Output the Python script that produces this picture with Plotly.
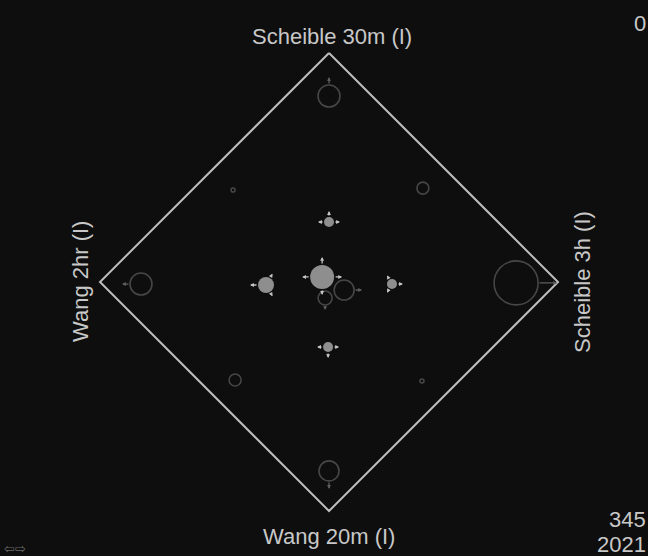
import plotly.graph_objects as go
import math

# ---- data (unit square rotated 45deg: vertices at (0,±1), (±1,0)) ----
axis_labels = ["Scheible 30m (I)", "Scheible 3h (I)", "Wang 20m (I)", "Wang 2hr (I)"]
vertex_x = [0, 1, 0, -1, 0]
vertex_y = [1, 0, -1, 0, 1]

glyph_x = [0.000, 0.000, -0.821, 0.817, -0.030, 0.066, -0.017, -0.275, 0.275, 0.000, -0.004, -0.419, 0.410, -0.410, 0.406]
glyph_y = [0.812, -0.825, -0.009, -0.004, 0.022, -0.035, -0.070, -0.013, -0.009, 0.262, -0.284, 0.402, 0.410, -0.428, -0.432]
glyph_size = [22, 20, 22, 44, 24, 20, 14, 16, 10, 10, 10, 4, 12, 12, 4]
glyph_filled = [0, 0, 0, 0, 1, 0, 0, 1, 1, 1, 1, 0, 0, 0, 0]

# arrows: glyph index, direction (degrees), length
arrow_glyph = [0, 1, 2, 3, 4, 4, 4, 4, 5, 6, 7, 7, 7, 8, 8, 8, 9, 9, 9, 10, 10, 10, 12, 12, 13, 13]
arrow_angle = [90, 270, 180, 0, 90, 270, 180, 0, 0, 270, 180, 60, 300, 0, 120, 240, 90, 180, 0, 270, 180, 0, 135, 315, 135, 315]
arrow_len = [8, 8, 8, 19, 8, 6, 8, 8, 8, 5, 8, 5, 5, 6, 5, 5, 6, 6, 6, 6, 6, 6, 3, 3, 3, 3]

BG = "#0e0e0e"
TXT = "#c8c8c8"
PX = 229.0  # pixels per data unit (for converting glyph radius to data units)

fig = go.Figure()

fig.add_trace(go.Scatter(x=vertex_x, y=vertex_y, mode="lines",
                         line=dict(color="#bdbdbd", width=2), hoverinfo="skip"))

hx = [x for x, f in zip(glyph_x, glyph_filled) if not f]
hy = [y for y, f in zip(glyph_y, glyph_filled) if not f]
hs = [s for s, f in zip(glyph_size, glyph_filled) if not f]
fx = [x for x, f in zip(glyph_x, glyph_filled) if f]
fy = [y for y, f in zip(glyph_y, glyph_filled) if f]
fs = [s for s, f in zip(glyph_size, glyph_filled) if f]

fig.add_trace(go.Scatter(x=hx, y=hy, mode="markers",
                         marker=dict(size=hs, color="rgba(0,0,0,0)",
                                     line=dict(color="#5e5e5e", width=1.6))))
fig.add_trace(go.Scatter(x=fx, y=fy, mode="markers",
                         marker=dict(size=fs, color="#c4c4c4", line=dict(width=0))))

annotations = []
for g, ang, ln in zip(arrow_glyph, arrow_angle, arrow_len):
    r = glyph_size[g] / 2.0
    dx, dy = math.cos(math.radians(ang)), math.sin(math.radians(ang))
    sx = glyph_x[g] + dx * r / PX
    sy = glyph_y[g] + dy * r / PX
    ex = glyph_x[g] + dx * (r + ln) / PX
    ey = glyph_y[g] + dy * (r + ln) / PX
    col = "#c4c4c4" if glyph_filled[g] else "#5e5e5e"
    annotations.append(dict(x=ex, y=ey, ax=sx, ay=sy, xref="x", yref="y", axref="x", ayref="y",
                            showarrow=True, arrowhead=2, arrowsize=0.6, arrowwidth=1.3,
                            arrowcolor=col, text=""))

font = dict(family="Liberation Sans, Arial, sans-serif", size=22, color=TXT)
annotations += [
    dict(x=0.015, y=1.0, yshift=17, xref="x", yref="y", text=axis_labels[0], showarrow=False, font=font),
    dict(x=1.0, y=0.0, xshift=24, xref="x", yref="y", text=axis_labels[1], showarrow=False, font=font, textangle=-90),
    dict(x=0.0, y=-1.0, yshift=-25, xref="x", yref="y", text=axis_labels[2], showarrow=False, font=font),
    dict(x=-1.0, y=0.0, xshift=-20, xref="x", yref="y", text=axis_labels[3], showarrow=False, font=font, textangle=-90),
    dict(x=1, y=1, xref="paper", yref="paper", xanchor="right", yanchor="top", yshift=-9, xshift=0,
         text="0", showarrow=False, font=dict(family="Liberation Sans, Arial", size=22, color=TXT)),
    dict(x=1, y=0, xref="paper", yref="paper", xanchor="right", yanchor="bottom", yshift=22, xshift=0,
         text="345", showarrow=False, font=dict(family="Liberation Sans, Arial", size=22, color=TXT)),
    dict(x=1, y=0, xref="paper", yref="paper", xanchor="right", yanchor="bottom", yshift=-3, xshift=0,
         text="2021", showarrow=False, font=dict(family="Liberation Sans, Arial", size=22, color=TXT)),
    dict(x=0, y=0, xref="paper", yref="paper", xanchor="left", yanchor="bottom", yshift=-2, xshift=2,
         text="⇦⇨", showarrow=False, font=dict(family="DejaVu Sans", size=13, color="#6a6a6a")),
]

fig.update_layout(
    width=648, height=556, margin=dict(l=0, r=0, t=0, b=0),
    paper_bgcolor=BG, plot_bgcolor=BG, showlegend=False,
    xaxis=dict(range=[-329 / PX, (648 - 329) / PX], visible=False, fixedrange=True),
    yaxis=dict(range=[-(556 - 282) / PX, 282 / PX], visible=False, fixedrange=True),
    annotations=annotations,
)

fig.write_html("out.html", config={"displayModeBar": False},
               post_script="document.body.style.margin='0';document.body.style.background='%s';"
                           "document.body.style.overflow='hidden';" % BG)
